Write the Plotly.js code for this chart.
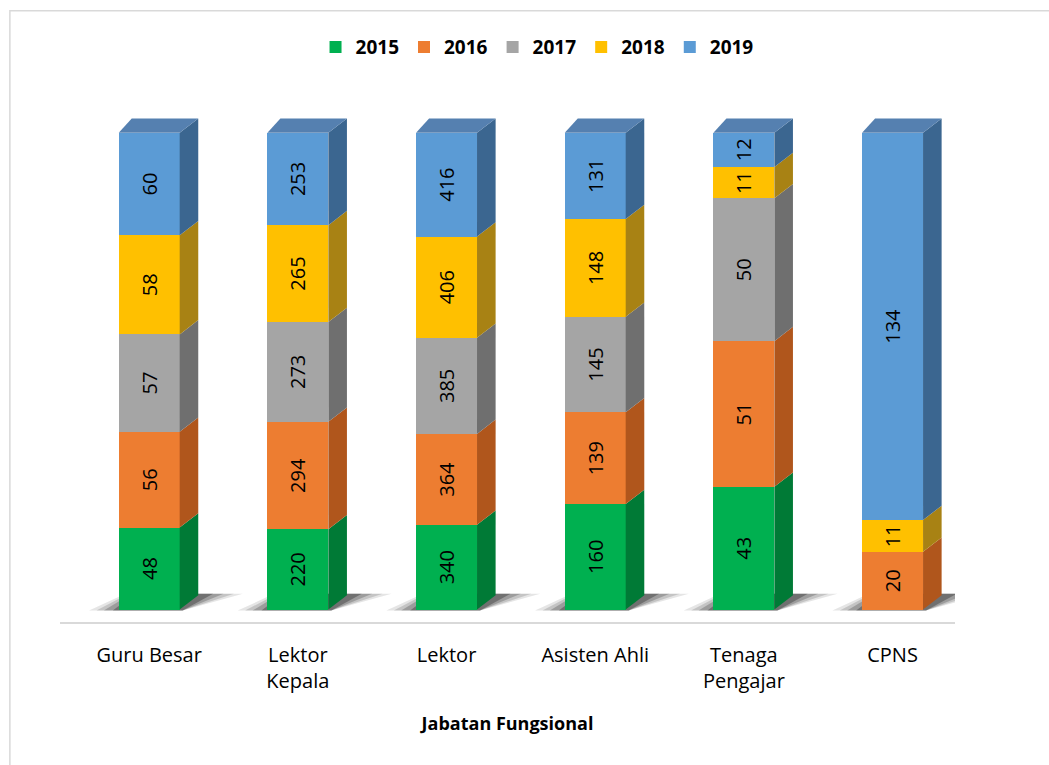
<!DOCTYPE html>
<html><head><meta charset="utf-8">
<script src="https://cdn.plot.ly/plotly-3.0.1.min.js"></script>
<style>body{margin:0;background:#fff}#chart{width:1049px;height:765px}</style>
</head><body><div id="chart"></div>
<script>
const categories = ['Guru Besar', 'Lektor<br>Kepala', 'Lektor', 'Asisten Ahli', 'Tenaga<br>Pengajar', 'CPNS'];
const years = ['2015', '2016', '2017', '2018', '2019'];
const v2015 = [48, 220, 340, 160, 43, 0];
const v2016 = [56, 294, 364, 139, 51, 20];
const v2017 = [57, 273, 385, 145, 50, 0];
const v2018 = [58, 265, 406, 148, 11, 11];
const v2019 = [60, 253, 416, 131, 12, 134];
const series = [v2015, v2016, v2017, v2018, v2019];
const frontColors = ['#00b050', '#ed7d31', '#a5a5a5', '#ffc000', '#5b9bd5'];
const sideColors = ['#007a36', '#b0561c', '#6f6f6f', '#a88214', '#3b6690'];
const topColor = '#5580b0';

const xs = categories.map((c, i) => i);
const W = 0.41, DX = 0.125, DY = 3.0;

const traces = series.map((vals, k) => ({
  type: 'bar', name: years[k], x: xs, y: vals,
  marker: {color: frontColors[k], line: {width: 0}},
  text: vals.map(v => v ? String(v) : ''),
  textposition: 'inside', insidetextanchor: 'middle', textangle: -90,
  constraintext: 'none',
  textfont: {family: 'Open Sans, sans-serif', size: 20, color: '#000'},
  hoverinfo: 'skip'
}));

const shapes = [];
const totals = xs.map(i => series.reduce((s, a) => s + a[i], 0));
xs.forEach(i => {
  const xl = i - W / 2, xr = i + W / 2;
  // floor shadow (soft, layered)
  [[0.20, 0.30, 0.10], [0.15, 0.24, 0.14], [0.10, 0.17, 0.2], [0.04, 0.10, 0.28]].forEach(([a, b, op]) => {
    shapes.push({type: 'path', layer: 'below', line: {width: 0},
      fillcolor: 'rgba(0,0,0,' + op + ')',
      path: `M ${xl - a} ${-0.2} L ${xr + 0.02} ${-0.2} L ${xr + DX + b} ${DY + 0.3} L ${xl + DX - a * 0.4} ${DY + 0.3} Z`});
  });
  let cum = 0;
  series.forEach((vals, k) => {
    const v = vals[i];
    if (!v) return;
    const y0 = cum / totals[i] * 100;
    cum += v;
    const y1 = cum / totals[i] * 100;
    shapes.push({type: 'path', layer: 'above', line: {width: 0}, fillcolor: sideColors[k],
      path: `M ${xr} ${y0} L ${xr + DX} ${y0 + DY} L ${xr + DX} ${y1 + DY} L ${xr} ${y1} Z`});
  });
  shapes.push({type: 'path', layer: 'above', line: {width: 0}, fillcolor: topColor,
    path: `M ${xl} 100 L ${xl + DX * 0.7} ${100 + DY} L ${xr + DX} ${100 + DY} L ${xr} 100 Z`});
});
// outer chart frame
shapes.push({type: 'rect', xref: 'paper', yref: 'paper', x0: -0.056, x1: 1.2, y0: -0.5, y1: 1.208,
  line: {color: '#d9d9d9', width: 1.5}, fillcolor: 'rgba(0,0,0,0)', layer: 'below'});

const layout = {
  width: 1049, height: 765,
  margin: {l: 60, r: 94, t: 116, b: 143},
  paper_bgcolor: '#fff', plot_bgcolor: '#fff',
  barmode: 'stack', barnorm: 'percent', bargap: 0.59,
  showlegend: true,
  legend: {orientation: 'h', x: 0.533, xanchor: 'center', y: 1.136, yanchor: 'middle',
    font: {family: 'Open Sans, sans-serif', size: 19, color: '#000', weight: 'bold'},
    itemwidth: 30, traceorder: 'normal'},
  xaxis: {range: [-0.6, 5.42], tickvals: xs, ticktext: categories,
    showline: true, linecolor: '#d9d9d9', linewidth: 2, showgrid: false, zeroline: false,
    ticks: '', ticklabelstandoff: 14,
    tickfont: {family: 'Open Sans, sans-serif', size: 20, color: '#000'},
    title: {text: 'Jabatan Fungsional', standoff: 24,
      font: {family: 'Open Sans, sans-serif', size: 18, color: '#000', weight: 'bold'}}},
  yaxis: {range: [-2.6, 103.5], visible: false, showgrid: false, zeroline: false},
  shapes: shapes
};
Plotly.newPlot('chart', traces, layout, {displayModeBar: false, staticPlot: true});
</script></body></html>
